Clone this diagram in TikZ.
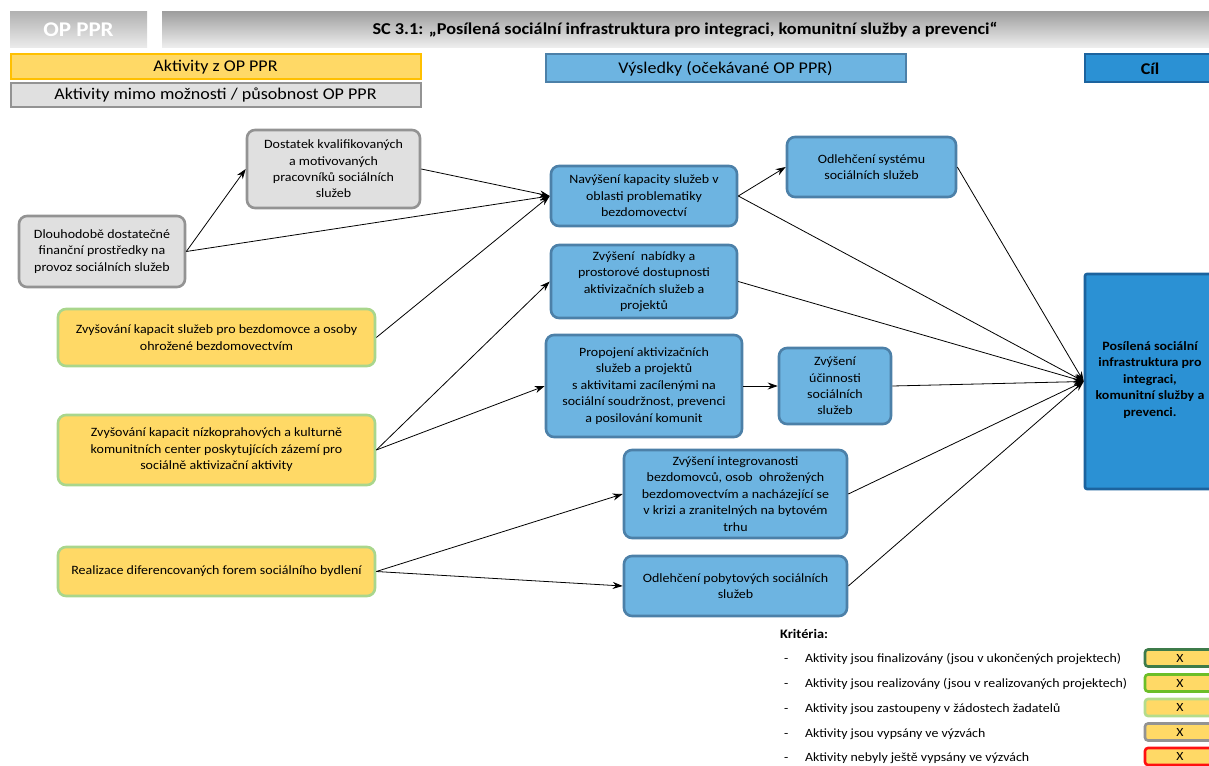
\documentclass[tikz,border=0pt]{standalone}
\usepackage{fontspec}
\setmainfont{Carlito}[FakeStretch=1.1]
\usetikzlibrary{arrows.meta}
\definecolor{grayfill}{HTML}{E0E0E0}
\definecolor{grayline}{HTML}{939393}
\definecolor{yelfill}{HTML}{FFD966}
\definecolor{greenline}{HTML}{A9D68C}
\definecolor{orangeline}{HTML}{FFC000}
\definecolor{bluefill}{HTML}{6DB4E1}
\definecolor{blueline}{HTML}{4C80A8}
\definecolor{cilfill}{HTML}{2B91D4}
\definecolor{cilline}{HTML}{1C639E}
\definecolor{dkgreen}{HTML}{3E7B4A}
\definecolor{midgreen}{HTML}{6CBE28}
\definecolor{ltgreen}{HTML}{B4DC8C}
\definecolor{redline}{HTML}{FF1010}
\tikzset{
  box/.style={rounded corners=8pt, line width=2.6pt, align=center, inner sep=2pt,
    font=\fontsize{12.7}{16.4}\selectfont},
  graybox/.style={box, fill=grayfill, draw=grayline},
  yelbox/.style={box, fill=yelfill, draw=greenline},
  bluebox/.style={box, fill=bluefill, draw=blueline},
  arr/.style={-{Stealth[length=10pt,width=7pt]}, line width=0.8pt, black},
  hdr/.style={line width=2pt, inner sep=0pt, font=\fontsize{16.4}{19}\selectfont},
  legbox/.style={rounded corners=3pt, line width=2.6pt, fill=yelfill, minimum width=72pt, minimum height=17pt, inner sep=0pt, font=\fontsize{12}{14}\selectfont},
  legtxt/.style={anchor=base west, inner sep=0pt, font=\fontsize{12.6}{14}\selectfont},
  xmark/.style={font=\fontsize{12.5}{14}\selectfont, inner sep=0pt}
}
\begin{document}
\begin{tikzpicture}[x=1pt,y=-1pt]
\useasboundingbox (0,0) rectangle (1209,765);
% header
\node[minimum width=137pt, minimum height=36pt, top color=gray!60, bottom color=gray!15, inner sep=0pt,
  text=white, font=\bfseries\fontsize{20.9}{24}\selectfont] (opppr) at (78.5,30) {OP PPR};
\node[minimum width=1060pt, minimum height=36pt, top color=gray!75, bottom color=gray!12, inner sep=0pt] (titlebar) at (692,30) {};
\node[font=\bfseries\fontsize{16.6}{19}\selectfont, inner sep=0pt] (title) at (685,30) {SC 3.1: „Posílená sociální infrastruktura pro integraci, komunitní služby a prevenci“};
\node[hdr, fill=yelfill, draw=orangeline, minimum width=410pt, minimum height=25pt] (hA) at (215.5,67) {Aktivity z OP PPR};
\node[hdr, fill=grayfill, draw=grayline, minimum width=410pt, minimum height=24pt] (hB) at (215.5,95.5) {Aktivity mimo možnosti / působnost OP PPR};
\node[hdr, fill=bluefill, draw=blueline, minimum width=360pt, minimum height=28pt] (hV) at (725.5,68.5) {Výsledky (očekávané OP PPR)};
\node[hdr, fill=cilfill, draw=cilline, minimum width=130pt, minimum height=28pt, font=\bfseries\fontsize{16.4}{19}\selectfont] (hC) at (1150,68.5) {Cíl};
% nodes
\node[graybox, minimum width=173pt, minimum height=78pt] (dost) at (333.5,169) {Dostatek kvalifikovaných\\a motivovaných\\pracovníků sociálních\\služeb};
\node[graybox, minimum width=166pt, minimum height=71pt] (dl) at (102,251.5) {Dlouhodobě dostatečné\\finanční prostředky na\\provoz sociálních služeb};
\node[yelbox, minimum width=317pt, minimum height=57pt] (z1) at (216.5,337.5) {Zvyšování kapacit služeb pro bezdomovce a osoby\\ohrožené bezdomovectvím};
\node[yelbox, minimum width=317pt, minimum height=70pt] (z2) at (216.5,450) {Zvyšování kapacit nízkoprahových a kulturně\\komunitních center poskytujících zázemí pro\\sociálně aktivizační aktivity};
\node[yelbox, minimum width=317pt, minimum height=49pt] (z3) at (216.5,571.5) {Realizace diferencovaných forem sociálního bydlení};
\node[bluebox, minimum width=186pt, minimum height=60pt] (nav) at (644,196) {Navýšení kapacity služeb v\\oblasti problematiky\\bezdomovectví};
\node[bluebox, minimum width=169pt, minimum height=60pt] (odls) at (871.5,167) {Odlehčení systému\\sociálních služeb};
\node[bluebox, minimum width=186pt, minimum height=73pt] (nab) at (644,281.5) {Zvýšení\ \ nabídky a\\prostorové dostupnosti\\aktivizačních služeb a\\projektů};
\node[bluebox, minimum width=196pt, minimum height=102pt] (prop) at (644,386) {Propojení aktivizačních\\služeb a projektů\\s aktivitami zacílenými na\\sociální soudržnost, prevenci\\a posilování komunit};
\node[bluebox, minimum width=112pt, minimum height=76pt] (ucin) at (835,386) {Zvýšení\\účinnosti\\sociálních\\služeb};
\node[bluebox, minimum width=223pt, minimum height=88pt] (integ) at (735.5,494) {Zvýšení integrovanosti\\bezdomovců, osob\ \ ohrožených\\bezdomovectvím a nacházející se\\v krizi a zranitelných na bytovém\\trhu};
\node[bluebox, minimum width=223pt, minimum height=60pt] (odlp) at (735.5,586) {Odlehčení pobytových sociálních\\služeb};
\node[rounded corners=2pt, line width=2.6pt, fill=cilfill, draw=cilline, minimum width=130pt, minimum height=215pt, inner sep=0pt] (cil) at (1150,381.5) {};
\node[align=center, font=\bfseries\fontsize{12.7}{16.5}\selectfont, inner sep=0pt] (ciltxt) at (1150,380) {Posílená sociální\\infrastruktura pro\\integraci,\\komunitní služby a\\prevenci.};
% connectors
\draw[arr] (dl.east) -- (dost.west);
\draw[arr] (dl.east) -- (nav.west);
\draw[arr] (dost.east) -- (nav.west);
\draw[arr] (z1.east) -- (nav.west);
\draw[arr] (z2.east) -- (nab.west);
\draw[arr] (z2.east) -- (prop.west);
\draw[arr] (z3.east) -- (integ.west);
\draw[arr] (z3.east) -- (odlp.west);
\draw[arr] (nav.east) -- (odls.west);
\draw[arr] (prop.east) -- (ucin.west);
\draw[arr] (nav.east) -- (cil.west);
\draw[arr] (odls.east) -- (cil.west);
\draw[arr] (nab.east) -- (cil.west);
\draw[arr] (ucin.east) -- (cil.west);
\draw[arr] (integ.east) -- (cil.west);
\draw[arr] (odlp.east) -- (cil.west);
% legend
\node[anchor=base west, inner sep=0pt, font=\bfseries\fontsize{13}{15}\selectfont] (krit) at (780,638.5) {Kritéria:};
\node[legtxt] (d1) at (784,662.5) {-};
\node[legtxt] (t1) at (805,662.5) {Aktivity jsou finalizovány (jsou v ukončených projektech)};
\node[legtxt] (d2) at (784,687.5) {-};
\node[legtxt] (t2) at (805,687.5) {Aktivity jsou realizovány (jsou v realizovaných projektech)};
\node[legtxt] (d3) at (784,712) {-};
\node[legtxt] (t3) at (805,712) {Aktivity jsou zastoupeny v žádostech žadatelů};
\node[legtxt] (d4) at (784,737) {-};
\node[legtxt] (t4) at (805,737) {Aktivity jsou vypsány ve výzvách};
\node[legtxt] (d5) at (784,761.5) {-};
\node[legtxt] (t5) at (805,761.5) {Aktivity nebyly ještě vypsány ve výzvách};
\node[legbox, draw=dkgreen] (l1) at (1181,658) {};
\node[legbox, draw=midgreen] (l2) at (1181,683) {};
\node[legbox, draw=ltgreen] (l3) at (1181,707.5) {};
\node[legbox, draw=grayline] (l4) at (1181,732) {};
\node[legbox, draw=redline] (l5) at (1181,756.5) {};
\node[xmark] (x1) at (1180,658) {X};
\node[xmark] (x2) at (1180,683) {X};
\node[xmark] (x3) at (1180,707.5) {X};
\node[xmark] (x4) at (1180,732) {X};
\node[xmark] (x5) at (1180,756.5) {X};
\end{tikzpicture}
\end{document}
